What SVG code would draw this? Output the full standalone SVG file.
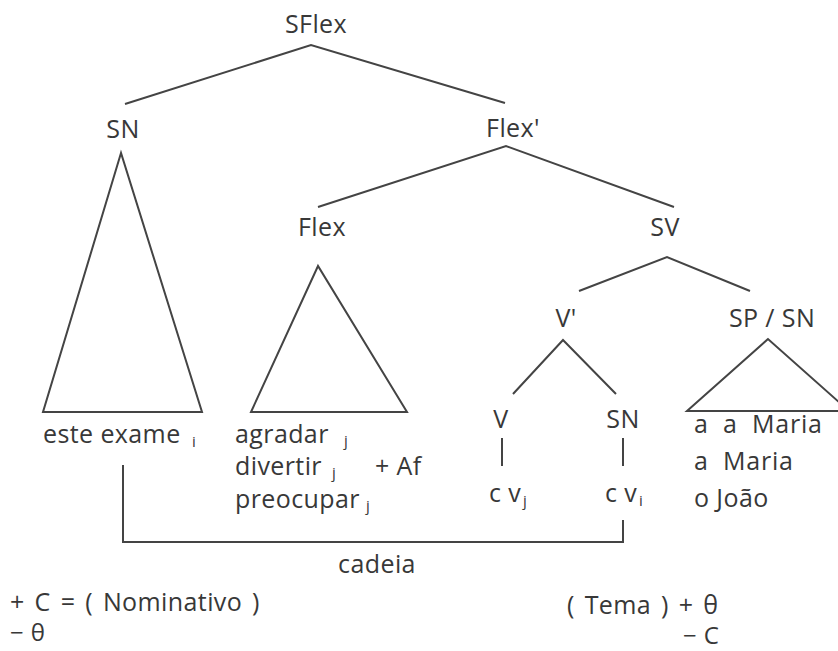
<svg xmlns="http://www.w3.org/2000/svg" width="838" height="651" viewBox="0 0 838 651">
  <style>
    text { font-family: "Open Sans", "Noto Sans", "DejaVu Sans", sans-serif; font-size: 25px; font-weight: 500; letter-spacing: 0.4px; fill: #383838; }
    .mid { text-anchor: middle; }
    .sub { font-size: 15px; letter-spacing: 0; }
    .wide { word-spacing: 3px; }
    .spread { word-spacing: 7px; letter-spacing: 0.8px; }
    .low { font-size: 24px; }
    .edge, .tri { fill: none; stroke: #444; stroke-width: 2; stroke-linejoin: miter; }
  </style>
  <rect width="838" height="651" fill="#fff"/>

  <!-- tree branches and the chain connector -->
  <g id="connectors">
    <polyline class="edge" points="125,104 311,45 505,103"/>
    <polyline class="edge" points="318,207 506,146 674,207"/>
    <polyline class="edge" points="579,291 667,257 750,291"/>
    <polyline class="edge" points="513,394 563,340 616,394"/>
    <line class="edge" x1="502" y1="438" x2="502" y2="466"/>
    <line class="edge" x1="623" y1="438" x2="623" y2="466"/>
    <polyline class="edge" points="123,465 123,542 623,542 623,520"/>
  </g>

  <g id="sflex"><text class="mid" x="316" y="33">SFlex</text></g>

  <g id="sn-subject">
    <text class="mid" x="123" y="138">SN</text>
    <polygon class="tri" points="121,153 43,412 202,412"/>
    <text x="43" y="443">este exame</text>
    <text class="sub" x="192" y="447">i</text>
  </g>

  <g id="flex-bar"><text class="mid" x="513" y="137">Flex'</text></g>

  <g id="flex">
    <text class="mid" x="322" y="236">Flex</text>
    <polygon class="tri" points="318,266 251,412 407,412"/>
    <text x="235" y="443">agradar</text>
    <text class="sub" x="344" y="446">j</text>
    <text x="235" y="475">divertir</text>
    <text class="sub" x="332" y="478">j</text>
    <text x="375" y="475">+ Af</text>
    <text x="235" y="508">preocupar</text>
    <text class="sub" x="366" y="511">j</text>
  </g>

  <g id="sv"><text class="mid" x="665" y="236">SV</text></g>

  <g id="v-bar"><text class="mid" x="566" y="327">V'</text></g>

  <g id="sp-sn">
    <text class="mid" x="772" y="327">SP / SN</text>
    <polygon class="tri" points="768,339 687,411 849,411"/>
    <text class="spread" x="694" y="433">a a Maria</text>
    <text class="spread" x="694" y="470">a Maria</text>
    <text x="694" y="507">o João</text>
  </g>

  <g id="v">
    <text class="mid" x="501" y="428">V</text>
    <text x="489" y="502">c v</text>
    <text class="sub" x="523" y="506">j</text>
  </g>

  <g id="sn-object">
    <text class="mid" x="623" y="428">SN</text>
    <text x="605" y="502">c v</text>
    <text class="sub" x="639" y="506">i</text>
  </g>

  <g id="chain-label"><text class="mid" x="377" y="573">cadeia</text></g>

  <g id="features-left">
    <text class="wide" x="10" y="611">+ C = ( Nominativo )</text>
    <text class="low" x="10" y="641">− θ</text>
  </g>

  <g id="features-right">
    <text class="wide" x="567" y="614">( Tema ) + θ</text>
    <text class="low" x="683" y="644">− C</text>
  </g>
</svg>
